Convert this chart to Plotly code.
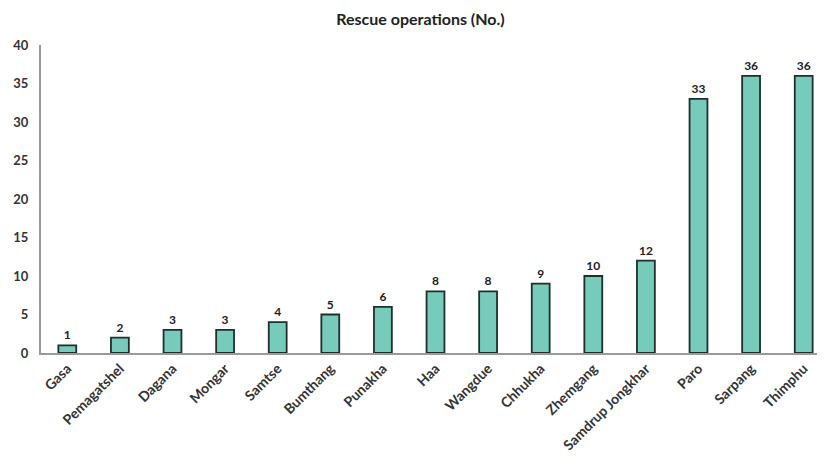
import plotly.graph_objects as go

districts = ["Gasa", "Pemagatshel", "Dagana", "Mongar", "Samtse", "Bumthang", "Punakha",
             "Haa", "Wangdue", "Chhukha", "Zhemgang", "Samdrup Jongkhar", "Paro", "Sarpang", "Thimphu"]
rescues = [1, 2, 3, 3, 4, 5, 6, 8, 8, 9, 10, 12, 33, 36, 36]
y_ticks = [0, 5, 10, 15, 20, 25, 30, 35, 40]

font_family = "Lato, 'Open Sans', sans-serif"

fig = go.Figure(go.Bar(
    x=districts, y=rescues,
    marker=dict(color="#76CBBA", line=dict(color="#1F2F2B", width=1.8)),
    text=[f"<b>{v}</b>" for v in rescues], textposition="outside",
    textfont=dict(family=font_family, size=12, color="#222222"),
    cliponaxis=False,
))

fig.update_layout(
    width=825, height=462,
    margin=dict(l=33, r=3, t=37, b=117),
    paper_bgcolor="white", plot_bgcolor="white",
    bargap=0.66,
    showlegend=False,
    title=dict(text="<b>Rescue operations (No.)</b>", x=0.5, xanchor="center", y=0.975, yanchor="middle",
               font=dict(family=font_family, size=16, color="#222222")),
    font=dict(family=font_family, color="#333333"),
)
fig.update_xaxes(
    tickangle=-45, tickfont=dict(family=font_family, size=14, color="#333333"),
    ticktext=[f"<b>{d}</b>" for d in districts], tickvals=districts,
    showline=True, linecolor="#9A9A9A", linewidth=2, ticks="",
    showgrid=False, automargin=False,
)
fig.update_yaxes(
    range=[0, 40], tickvals=y_ticks, ticktext=[f"<b>{t}</b>" for t in y_ticks],
    tickfont=dict(family=font_family, size=13, color="#333333"),
    showline=True, linecolor="#9A9A9A", linewidth=2, showgrid=False, zeroline=False,
    ticks="", ticklen=0, automargin=False, ticklabelstandoff=8,
)

fig.write_html("out.html")
